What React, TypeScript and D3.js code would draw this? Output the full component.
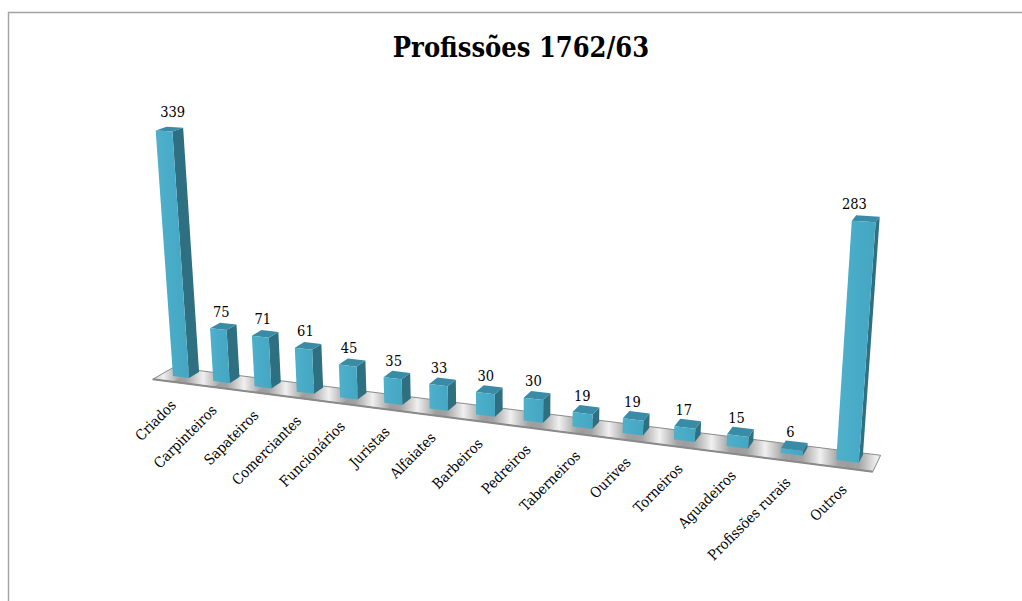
import React from "react";
import * as d3 from "d3";

const categories = ["Criados","Carpinteiros","Sapateiros","Comerciantes","Funcionários","Juristas","Alfaiates","Barbeiros","Pedreiros","Taberneiros","Ourives","Torneiros","Aguadeiros","Profissões rurais","Outros"];
const values = [339,75,71,61,45,35,33,30,30,19,19,17,15,6,283];
const title = "Profissões 1762/63";

const W = 1022, H = 601;
const FONT = "'DejaVu Serif Condensed', 'DejaVu Serif', serif";

// Perspective camera fitted to the picture: category u, value v, depth w
const catX = d3.scaleLinear().domain([0, 14]).range([0, 558.2]);
const catY = d3.scaleLinear().domain([0, 14]).range([0, 70.7]);
const valX = d3.scaleLinear().domain([0, 339]).range([0, -16.5]);
const valY = d3.scaleLinear().domain([0, 339]).range([0, -233.9]);
const depX = d3.scaleLinear().domain([0, 1]).range([0, 10.26]);
const depY = d3.scaleLinear().domain([0, 1]).range([0, -6.01]);
const persp = (u: number, v: number, w: number) => 1 - 0.01131 * u - 0.00014 * v + 0.00992 * w;
const project = (u: number, v: number, w: number): [number, number] => {
  const d = persp(u, v, w);
  return [173 + (catX(u) + valX(v) + depX(w)) / d, 376 + (catY(u) + valY(v) + depY(w)) / d];
};
const poly = (pts: [number, number][]) => d3.line()(pts)! + "Z";

const BAR = 0.4;
const FLOOR = { u0: -0.3, u1: 14.7, w0: -0.8, w1: 1.2 };

export default function App() {
  const floor = poly([
    project(FLOOR.u0, 0, FLOOR.w0),
    project(FLOOR.u1, 0, FLOOR.w0),
    project(FLOOR.u1, 0, FLOOR.w1),
    project(FLOOR.u0, 0, FLOOR.w1),
  ]);
  return (
    <svg width={W} height={H} viewBox={`0 0 ${W} ${H}`} style={{ position: "absolute", left: 0, top: 0, background: "#fff" }}>
      <defs>
        <linearGradient id="stripe" x1="0" y1="0" x2="1" y2="0">
          <stop offset="0" stopColor="#9a9a9a" />
          <stop offset="0.22" stopColor="#a2a2a2" />
          <stop offset="0.5" stopColor="#f0f0f0" />
          <stop offset="0.78" stopColor="#a2a2a2" />
          <stop offset="1" stopColor="#9a9a9a" />
        </linearGradient>
        <linearGradient id="front" x1="0" y1="0" x2="1" y2="0">
          <stop offset="0" stopColor="#4fb0ca" />
          <stop offset="0.5" stopColor="#48abc7" />
          <stop offset="1" stopColor="#45a6c1" />
        </linearGradient>
        <clipPath id="floorClip"><path d={floor} /></clipPath>
      </defs>
      <path d={`M${W},12.5H8.5V${H}`} fill="none" stroke="#a3a3a3" strokeWidth={1.4} />
      <text x={521} y={57} textAnchor="middle" fontFamily={FONT} fontWeight="bold" fontSize={27} fill="#000">{title}</text>

      <path d={floor} fill="#b4b4b4" />
      <g clipPath="url(#floorClip)">
        {[-1, ...d3.range(categories.length)].map((i) => {
          const a = i + 0.2, b = i + 1.2;
          return (
            <path key={i} fill="url(#stripe)" d={poly([
              project(a, 0, FLOOR.w0), project(b, 0, FLOOR.w0), project(b, 0, FLOOR.w1), project(a, 0, FLOOR.w1),
            ])} />
          );
        })}
      </g>
      <path d={floor} fill="none" stroke="#8e8e8e" strokeWidth={1} />
      <path d={d3.line()([project(FLOOR.u0, 0, FLOOR.w0), project(FLOOR.u1, 0, FLOOR.w0)])!} fill="none" stroke="#8a8a8a" strokeWidth={2} />

      {categories.map((c, i) => {
        const v = values[i];
        const fbl = project(i, 0, 0), fbr = project(i + BAR, 0, 0), bbr = project(i + BAR, 0, 1);
        const ftl = project(i, v, 0), ftr = project(i + BAR, v, 0), btr = project(i + BAR, v, 1), btl = project(i, v, 1);
        return (
          <g key={c}>
            <path d={poly([fbr, bbr, btr, ftr])} fill="#2f6f82" />
            <path d={poly([ftl, ftr, btr, btl])} fill="#3a8ca6" />
            <path d={poly([fbl, fbr, ftr, ftl])} fill="url(#front)" />
          </g>
        );
      })}

      {categories.map((c, i) => {
        const v = values[i];
        const [x, y] = project(i + 0.2, v, 0.5);
        const dx = -3.1 - 0.05 * i + (v / 339) * 6.3 * (1 - i / 14) - (0.027 * v * i) / 14;
        const dy = -9 - (v / 339) * 3 * (1 - i / 14) - (v / 339) * 1.2 * (i / 14);
        return (
          <text key={c} x={x + dx} y={y + dy} textAnchor="middle" fontFamily={FONT} fontSize={14.5} fill="#000">{v}</text>
        );
      })}

      {categories.map((c, i) => {
        const [x, y] = project(i + 0.2, 0, 0);
        const lx = x - 4 + 0.3 * i, ly = y + 29;
        return (
          <text key={c} transform={`translate(${lx},${ly}) rotate(-45)`} textAnchor="end" fontFamily={FONT} fontSize={14.4} fill="#000">{c}</text>
        );
      })}
    </svg>
  );
}
